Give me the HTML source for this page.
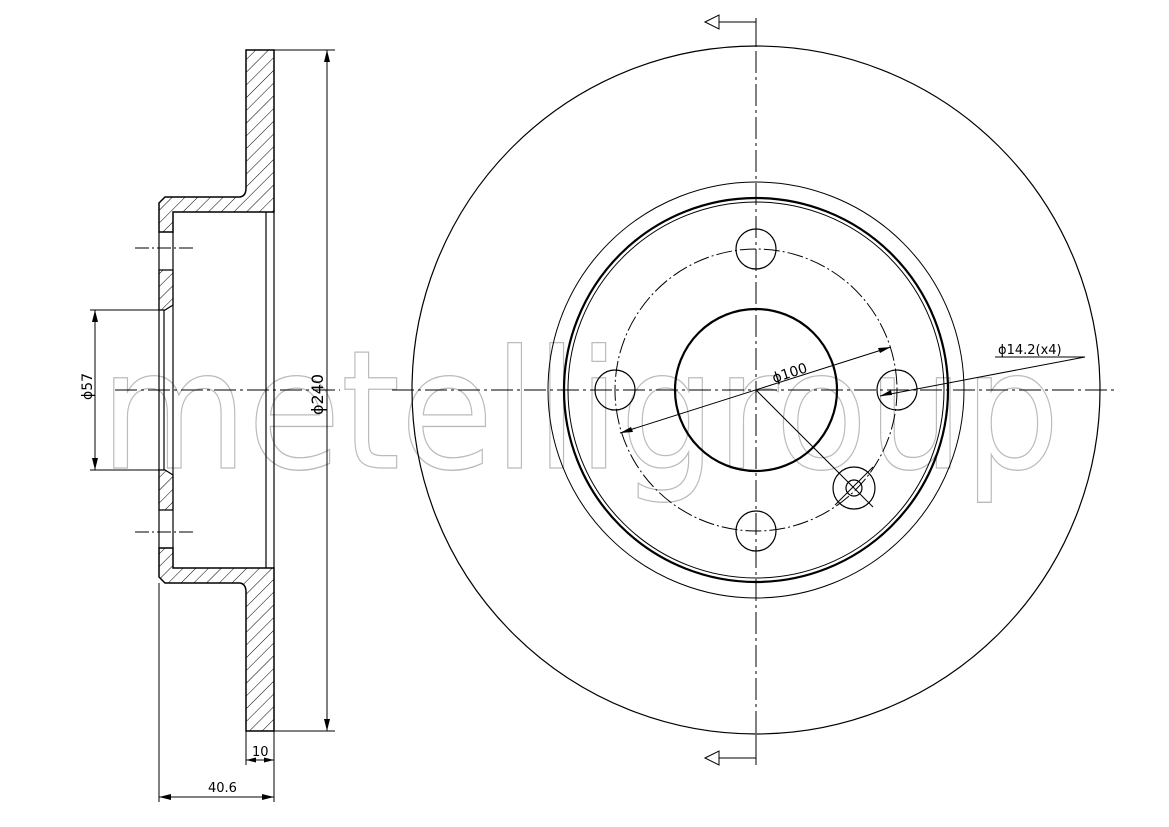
<!DOCTYPE html>
<html><head><style>
html,body{margin:0;padding:0;background:#fff;}
svg{display:block;}
text{font-family:"DejaVu Sans","Liberation Sans",sans-serif;}
</style></head><body>
<svg width="1169" height="827" viewBox="0 0 1169 827" xmlns="http://www.w3.org/2000/svg">
<defs>
<pattern id="h" width="9" height="9" patternUnits="userSpaceOnUse" patternTransform="rotate(45)">
<line x1="0" y1="0" x2="0" y2="9" stroke="#000" stroke-width="1"/>
</pattern>
</defs>
<!-- watermark -->
<text x="100" y="468" font-size="165" textLength="960" lengthAdjust="spacingAndGlyphs" fill="none" stroke="#bbb" stroke-width="1.3" font-family="Liberation Sans, sans-serif">metelligroup</text>

<g stroke="#000" fill="none" stroke-width="1.2">
<path d="M246,50 L274,50 L274,212 L266,212 L173,212 L173,232 L159,232 L159,203 L165,197 L240,197 Q246,196 246,188 Z" fill="url(#h)" stroke-width="1.5"/>
<path d="M246,731 L274,731 L274,568 L266,568 L173,568 L173,548 L159,548 L159,577 L165,583 L240,583 Q246,584 246,592 Z" fill="url(#h)" stroke-width="1.5"/>
<path d="M159,270 L173,270 L173,305 L165,310 L159,310 Z" fill="url(#h)"/>
<path d="M159,510 L173,510 L173,475 L165,470 L159,470 Z" fill="url(#h)"/>
<line x1="266" y1="212" x2="266" y2="568"/>
<line x1="274" y1="212" x2="274" y2="568"/>
<line x1="173" y1="232" x2="173" y2="548"/>
<line x1="159" y1="232" x2="159" y2="548"/>
<line x1="164" y1="310" x2="164" y2="470"/>
<line x1="135" y1="248" x2="195" y2="248" stroke-width="1" stroke-dasharray="14,3,2,3"/>
<line x1="135" y1="532" x2="195" y2="532" stroke-width="1" stroke-dasharray="14,3,2,3"/>
<line x1="115" y1="390" x2="340" y2="390" stroke-width="1" stroke-dasharray="22,4,3,4"/>
<line x1="274" y1="50" x2="335" y2="50" stroke-width="1"/>
<line x1="274" y1="731" x2="335" y2="731" stroke-width="1"/>
<line x1="327" y1="50" x2="327" y2="731" stroke-width="1"/>
<line x1="90" y1="310" x2="159" y2="310" stroke-width="1"/>
<line x1="90" y1="470" x2="159" y2="470" stroke-width="1"/>
<line x1="95" y1="310" x2="95" y2="470" stroke-width="1"/>
<line x1="246" y1="731" x2="246" y2="765" stroke-width="1"/>
<line x1="274" y1="731" x2="274" y2="802" stroke-width="1"/>
<line x1="246" y1="760" x2="274" y2="760" stroke-width="1"/>
<line x1="159" y1="583" x2="159" y2="802" stroke-width="1"/>
<line x1="159" y1="797" x2="274" y2="797" stroke-width="1"/>
</g>
<g fill="#000">
<path d="M327,50 l-3,12 h6 z M327,731 l-3,-12 h6 z"/>
<path d="M95,310 l-3,12 h6 z M95,470 l-3,-12 h6 z"/>
<path d="M246,760 l10,-2.5 v5 z M274,760 l-10,-2.5 v5 z"/>
<path d="M159,797 l12,-3 v6 z M274,797 l-12,-3 v6 z"/>
</g>
<g font-size="14" fill="#000">
<text transform="translate(92,400) rotate(-90)">ϕ57</text>
<text transform="translate(323,415) rotate(-90)" font-size="16">ϕ240</text>
<text x="252" y="756" font-size="13">10</text>
<text x="208" y="792" font-size="13">40.6</text>
</g>

<g stroke="#000" fill="none">
<circle cx="756" cy="390" r="344" stroke-width="1.2"/>
<circle cx="756" cy="390" r="208" stroke-width="1"/>
<circle cx="756" cy="390" r="192" stroke-width="2.2"/>
<circle cx="756" cy="390" r="188" stroke-width="1"/>
<circle cx="756" cy="390" r="81" stroke-width="2.2"/>
<circle cx="756" cy="390" r="141" stroke-width="1" stroke-dasharray="16,3,2,3"/>
<circle cx="756" cy="249" r="20" stroke-width="1.2"/>
<circle cx="756" cy="531" r="20" stroke-width="1.2"/>
<circle cx="615" cy="390" r="20" stroke-width="1.2"/>
<circle cx="897" cy="390" r="20" stroke-width="1.2"/>
<circle cx="854" cy="488" r="21" stroke-width="1.2"/>
<circle cx="854" cy="488" r="8" stroke-width="1.2"/>
<line x1="756" y1="18" x2="756" y2="765" stroke-width="1" stroke-dasharray="22,4,3,4"/>
<line x1="392" y1="390" x2="1115" y2="390" stroke-width="1" stroke-dasharray="22,4,3,4"/>
<line x1="756" y1="390" x2="873" y2="507" stroke-width="1"/>
<line x1="835" y1="505" x2="873" y2="467" stroke-width="1"/>
<line x1="620" y1="433" x2="891" y2="347" stroke-width="1"/>
<line x1="880" y1="396" x2="1085" y2="357" stroke-width="1"/>
<line x1="995" y1="357" x2="1085" y2="357" stroke-width="1"/>
<polyline points="756,45 756,22 710,22" stroke-width="1"/>
<polyline points="756,735 756,758 710,758" stroke-width="1"/>
</g>
<g fill="#000">
<path d="M620,433 l11,-6 l2,5 z M891,347 l-11,6 l-2,-5 z"/>
<path d="M880,396 l11,-6 l1,5 z"/>
</g>
<g fill="#fff" stroke="#000" stroke-width="1">
<path d="M705,22 l14,-7 v14 z"/>
<path d="M705,758 l14,-7 v14 z"/>
</g>
<text transform="translate(774,383) rotate(-18)" font-size="14" fill="#000">ϕ100</text>
<text x="998" y="354" font-size="13" fill="#000">ϕ14.2(x4)</text>
</svg>
</body></html>
